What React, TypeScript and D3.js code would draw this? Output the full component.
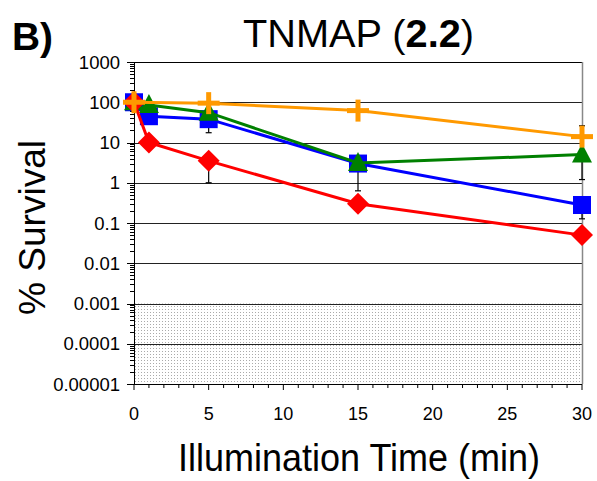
import React from 'react'
import * as d3 from 'd3'

// illumination times (min)
const times = [0, 1, 5, 15, 30]
const orangeTimes = [0, 5, 15, 30]

// % survival per series
const redValues = [100, 10, 3.5, 0.3, 0.05]
const blueValues = [100, 45, 38, 3, 0.28]
const greenValues = [100, 85, 55, 3.1, 5]
const orangeValues = [100, 95, 62, 14]

// error bars: [time, from, to]
const errorBars = [
  [5, 38, 17.5],
  [5, 3.5, 1],
  [15, 3, 0.63],
  [30, 14, 26],
  [30, 5, 1.2],
  [30, 0.28, 0.127],
]

const yTicks = [1000, 100, 10, 1, 0.1, 0.01, 0.001, 0.0001, 0.00001]
const yTickLabels = ['1000', '100', '10', '1', '0.1', '0.01', '0.001', '0.0001', '0.00001']
const xTicks = [0, 5, 10, 15, 20, 25, 30]
const detectionLimit = 0.001

const W = 597
const H = 481
const margin = { left: 134, right: 15, top: 62, bottom: 97 }

const x = d3.scaleLinear().domain([0, 30]).range([margin.left, W - margin.right])
const y = d3.scaleLog().domain([0.00001, 1000]).range([H - margin.bottom, margin.top])

const font = 'Liberation Sans, Arial, sans-serif'

function Square({ cx, cy, fill }) {
  return <rect x={cx - 9} y={cy - 9} width={18} height={18} fill={fill} />
}
function Diamond({ cx, cy, fill }) {
  const r = 11
  return <path d={`M${cx},${cy - r}L${cx + r},${cy}L${cx},${cy + r}L${cx - r},${cy}Z`} fill={fill} />
}
function Triangle({ cx, cy, fill }) {
  return <path d={`M${cx},${cy - 11}L${cx + 10},${cy + 8}L${cx - 10},${cy + 8}Z`} fill={fill} />
}
function Plus({ cx, cy, fill }) {
  const r = 11
  return (
    <g stroke={fill} strokeWidth={5}>
      <line x1={cx - r} x2={cx + r} y1={cy} y2={cy} />
      <line x1={cx} x2={cx} y1={cy - r} y2={cy + r} />
    </g>
  )
}

const series = [
  { color: '#0000ff', xs: times, vs: blueValues, Marker: Square },
  { color: '#008000', xs: times, vs: greenValues, Marker: Triangle },
  { color: '#ff0000', xs: times, vs: redValues, Marker: Diamond },
  { color: '#ff9900', xs: orangeTimes, vs: orangeValues, Marker: Plus },
]

export default function App() {
  const line = d3
    .line<[number, number]>()
    .x(d => x(d[0]))
    .y(d => y(d[1]))

  const minorTicks = []
  for (let e = -5; e < 3; e++) {
    for (let k = 2; k <= 9; k++) minorTicks.push(k * Math.pow(10, e))
  }
  const xMinor = d3.range(0, 31, 1)
  const x0 = x(0)
  const x1 = x(30)
  const yBottom = y(0.00001)
  const yTop = y(1000)

  return (
    <svg width={W} height={H} style={{ position: 'absolute', left: 0, top: 0 }} fontFamily={font}>
      <defs>
        <pattern id="dots" width={3} height={3} patternUnits="userSpaceOnUse">
          <rect width={3} height={3} fill="#fff" />
          <rect width={1} height={1} fill="#aaa" />
        </pattern>
      </defs>
      <rect width={W} height={H} fill="#fff" />

      {/* shaded detection limit */}
      <rect x={x0} y={y(detectionLimit)} width={x1 - x0} height={yBottom - y(detectionLimit)} fill="url(#dots)" />

      {/* gridlines */}
      {yTicks.slice(1, -1).map(t => (
        <line key={t} x1={x0} x2={x1} y1={Math.round(y(t)) + 0.5} y2={Math.round(y(t)) + 0.5} stroke="#222" strokeWidth={1} />
      ))}
      <line x1={x0} x2={x1} y1={Math.round(yTop) + 0.5} y2={Math.round(yTop) + 0.5} stroke="#000" />
      <line x1={Math.round(x1) + 0.5} x2={Math.round(x1) + 0.5} y1={yTop} y2={yBottom} stroke="#888" strokeWidth={1.5} />

      {/* y axis */}
      <line x1={x0 + 0.5} x2={x0 + 0.5} y1={yTop} y2={yBottom + 1} stroke="#000" />
      {minorTicks.map(t => (
        <line key={t} x1={x0 - 4} x2={x0} y1={Math.round(y(t)) + 0.5} y2={Math.round(y(t)) + 0.5} stroke="#000" />
      ))}
      {yTicks.map((t, i) => (
        <g key={t}>
          <line x1={x0 - 7} x2={x0} y1={Math.round(y(t)) + 0.5} y2={Math.round(y(t)) + 0.5} stroke="#000" />
          <text x={x0 - 14} y={y(t) + 6.5} fontSize={18.5} textAnchor="end" fill="#000">
            {yTickLabels[i]}
          </text>
        </g>
      ))}

      {/* x axis */}
      <line x1={x0} x2={x1} y1={Math.round(yBottom) + 0.5} y2={Math.round(yBottom) + 0.5} stroke="#000" />
      {xMinor.map(t => (
        <line key={t} x1={x(t)} x2={x(t)} y1={yBottom} y2={yBottom + (t % 5 === 0 ? 6 : 4)} stroke="#000" />
      ))}
      {xTicks.map(t => (
        <text key={t} x={x(t)} y={yBottom + 36} fontSize={18} textAnchor="middle" fill="#000">
          {t}
        </text>
      ))}

      {/* error bars */}
      {errorBars.map(([t, a, b], i) => (
        <g key={i} stroke="#000" strokeWidth={1.2}>
          <line x1={x(t)} x2={x(t)} y1={y(a)} y2={y(b)} />
          <line x1={x(t) - 3} x2={x(t) + 3} y1={y(b)} y2={y(b)} />
        </g>
      ))}

      {/* series */}
      {series.map(s => (
        <g key={s.color}>
          <path d={line(s.xs.map((t, i) => [t, s.vs[i]]))} fill="none" stroke={s.color} strokeWidth={3} />
          {s.xs.map((t, i) => (
            <s.Marker key={t} cx={x(t)} cy={y(s.vs[i])} fill={s.color} />
          ))}
        </g>
      ))}

      {/* titles */}
      <text x={12} y={50} fontSize={38} fontWeight="bold" fill="#000" textLength={41} lengthAdjust="spacingAndGlyphs">
        B)
      </text>
      <text x={243} y={47} fontSize={39} fill="#000" textLength={231} lengthAdjust="spacingAndGlyphs">
        TNMAP (<tspan fontWeight="bold">2.2</tspan>)
      </text>
      <text x={178} y={471} fontSize={39} fill="#000" textLength={362} lengthAdjust="spacingAndGlyphs">
        Illumination Time (min)
      </text>
      <text
        transform={`translate(45,${(140 + 315) / 2}) rotate(-90)`}
        fontSize={36}
        textAnchor="middle"
        fill="#000"
        textLength={175}
        lengthAdjust="spacingAndGlyphs"
      >
        % Survival
      </text>
    </svg>
  )
}
